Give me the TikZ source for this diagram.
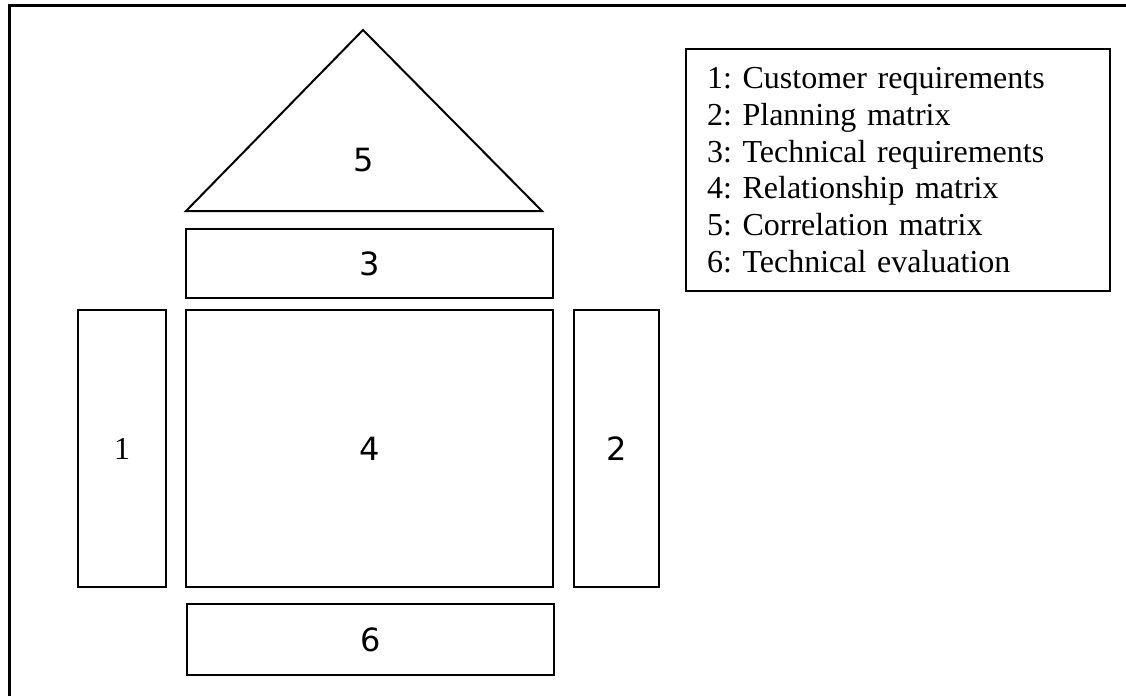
\documentclass[tikz,border=0pt]{standalone}
\usepackage{fontspec}
\setmainfont{Liberation Serif}
\newfontfamily\verd{DejaVu Sans}
\usepackage{tikz}
\usetikzlibrary{positioning}
\frenchspacing
\tikzstyle{frame} = [line width=2.25pt]
\tikzstyle{outline} = [draw=black, line width=1.5pt, line join=miter]
\tikzstyle{block} = [rectangle, outline, outer sep=0pt, minimum width=275.25pt, text centered, font=\verd\fontsize{24}{28}\selectfont]
\tikzstyle{side} = [block, minimum width=66pt, minimum height=207.75pt]
\tikzstyle{legend} = [rectangle, draw=black, line width=1.2pt, minimum width=318pt, minimum height=181.5pt, inner xsep=15.75pt, text width=286.5pt, align=left, font=\fontsize{24}{27.5}\selectfont]

\begin{document}
\begin{tikzpicture}[x=0.75pt, y=-0.75pt]
\useasboundingbox (0,0) rectangle (1126,696);
\draw [frame] (9.5,696) -- (9.5,5) -- (1126,5);
\node (rel) [block, minimum height=207.75pt] at (369.5,448.5) {4};
\node (tech) [block, minimum height=51.75pt, above=9pt of rel] {3};
\node (eval) [block, minimum height=53.25pt, below=12.75pt of rel, xshift=1pt] {6};
\node (cust) [side, left=15pt of rel, font=\fontsize{24}{28}\selectfont] {1};
\node (plan) [side, minimum width=63.75pt, right=15.75pt of rel] {2};
% house roof
\coordinate (bl) at ([yshift=13.5pt]tech.north west);
\coordinate (br) at ([xshift=-8.25pt, yshift=13.5pt]tech.north east);
\coordinate (apex) at (363,30);
\draw [outline] (bl) -- (apex) -- (br) -- cycle;
\node (corr) [font=\verd\fontsize{24}{28}\selectfont] at (364,160) {5};
\node (key) [legend] at (898,170) {1: Customer requirements\\
2: Planning matrix\\
3: Technical requirements\\
4: Relationship matrix\\
5: Correlation matrix\\
6: Technical evaluation};
\end{tikzpicture}
\end{document}
